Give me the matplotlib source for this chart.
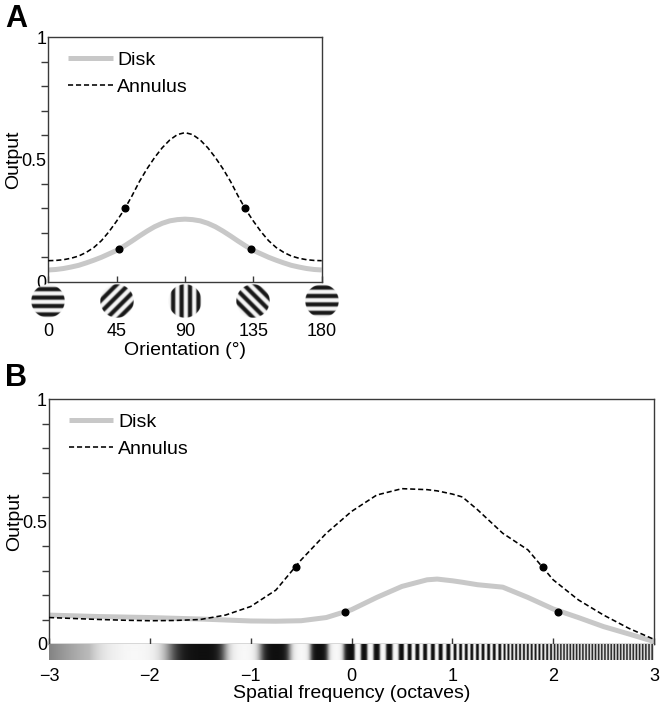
import numpy as np
import matplotlib
matplotlib.use('Agg')
import matplotlib.pyplot as plt
from matplotlib.ticker import MultipleLocator, FixedLocator

plt.rcParams['font.family'] = ['Liberation Sans', 'DejaVu Sans']

# ---------------- Panel A data ----------------
orient = [0, 5, 10, 15, 20, 25, 30, 35, 40, 45, 50, 55, 60, 65, 70, 75, 80, 85, 90,
          95, 100, 105, 110, 115, 120, 125, 130, 135, 140, 145, 150, 155, 160, 165, 170, 175, 180]
annulus_a = [0.086, 0.087, 0.090, 0.096, 0.105, 0.120, 0.140, 0.168, 0.205, 0.248, 0.295,
             0.350, 0.410, 0.462, 0.508, 0.548, 0.580, 0.602, 0.610,
             0.602, 0.580, 0.548, 0.508, 0.462, 0.410, 0.350, 0.295, 0.248, 0.205,
             0.168, 0.140, 0.120, 0.105, 0.096, 0.090, 0.087, 0.086]
disk_a = [0.048, 0.050, 0.054, 0.060, 0.067, 0.077, 0.088, 0.100, 0.114, 0.128, 0.146,
          0.166, 0.187, 0.207, 0.225, 0.239, 0.249, 0.254, 0.256,
          0.254, 0.249, 0.239, 0.225, 0.207, 0.187, 0.166, 0.146, 0.128, 0.114,
          0.100, 0.088, 0.077, 0.067, 0.060, 0.054, 0.050, 0.048]
dots_a_annulus_x = [50.5, 129.5]
dots_a_annulus_y = [0.300, 0.300]
dots_a_disk_x = [46.5, 133.5]
dots_a_disk_y = [0.133, 0.133]
orient_ticks = [0, 45, 90, 135, 180]

# ---------------- Panel B data ----------------
sf = [-3.0, -2.75, -2.5, -2.25, -2.0, -1.75, -1.5, -1.25, -1.0, -0.75, -0.5, -0.25, 0.0,
      0.25, 0.5, 0.75, 0.85, 1.0, 1.1, 1.25, 1.5, 1.75, 2.0, 2.25, 2.5, 2.75, 3.0]
annulus_b = [0.108, 0.104, 0.100, 0.097, 0.095, 0.096, 0.100, 0.118, 0.153, 0.220, 0.343,
             0.452, 0.541, 0.608, 0.634, 0.630, 0.625, 0.612, 0.600, 0.548, 0.452, 0.384,
             0.262, 0.180, 0.118, 0.064, 0.019]
disk_b = [0.118, 0.115, 0.112, 0.110, 0.108, 0.105, 0.102, 0.098, 0.094, 0.093, 0.095,
          0.108, 0.140, 0.190, 0.235, 0.262, 0.265, 0.258, 0.252, 0.242, 0.232, 0.190,
          0.143, 0.108, 0.071, 0.041, 0.010]
dots_b_annulus_x = [-0.55, 1.9]
dots_b_annulus_y = [0.316, 0.316]
dots_b_disk_x = [-0.06, 2.05]
dots_b_disk_y = [0.132, 0.132]
sf_ticks = [-3, -2, -1, 0, 1, 2, 3]
sf_ticklabels = ['\u22123', '\u22122', '\u22121', '0', '1', '2', '3']

GRAY = '#c8c8c8'
SPINE = '#3a3a3a'
FS_TICK = 13
FS_LAB = 14

W, H = 660, 702
fig = plt.figure(figsize=(W / 100, H / 100), dpi=100)


def fig_rect(left, top, right, bottom):
    return [left / W, 1 - bottom / H, (right - left) / W, (bottom - top) / H]


def style_axes(ax, xpad):
    for s in ax.spines.values():
        s.set_color(SPINE)
        s.set_linewidth(1.0)
    ax.set_ylim(0, 1)
    ax.yaxis.set_major_locator(FixedLocator([0, 0.5, 1]))
    ax.yaxis.set_major_formatter(plt.FixedFormatter(['0', '0.5', '1']))
    ax.yaxis.set_minor_locator(MultipleLocator(0.1))
    ax.tick_params(axis='y', which='major', length=0, pad=1.5, labelsize=FS_TICK)
    ax.tick_params(axis='y', which='minor', direction='out', length=4.8, width=1.0, color=SPINE)
    ax.tick_params(axis='x', which='major', direction='in', length=4.5, width=1.0,
                   color=SPINE, pad=xpad, labelsize=FS_TICK)


def legend(ax, width_px, height_px):
    leg = ax.legend(loc='upper left',
                    bbox_to_anchor=(19.5 / width_px, 1 - 14 / height_px),
                    frameon=False, fontsize=FS_LAB, handlelength=2.3, handletextpad=0.25,
                    labelspacing=0.5, borderpad=0.0, borderaxespad=0.0)
    return leg


# ================= Panel A =================
axA = fig.add_axes(fig_rect(48.3, 37.3, 321.7, 281.7))
axA.plot(orient, disk_a, color=GRAY, lw=3.6, solid_capstyle='butt', label='Disk', zorder=2)
axA.plot(orient, annulus_a, color='black', lw=1.15, dashes=(3.2, 1.8), label='Annulus', zorder=3)
axA.plot(dots_a_annulus_x, dots_a_annulus_y, 'o', color='black', ms=4.8, zorder=4)
axA.plot(dots_a_disk_x, dots_a_disk_y, 'o', color='black', ms=4.8, zorder=4)
axA.set_xlim(0, 180)
axA.set_xticks(orient_ticks)
style_axes(axA, xpad=30)
axA.set_xlabel('Orientation (\u00b0)', fontsize=FS_LAB, labelpad=1)
axA.set_ylabel('Output', fontsize=FS_LAB)
axA.yaxis.set_label_coords(-0.095, 0.5)
legend(axA, 321.7 - 48.3, 281.7 - 37.3)
fig.text(5 / W, 1 - 19 / H, 'A', fontsize=22, fontweight='bold', va='center', ha='left')

# grating icons
n = 120
u, v = np.meshgrid(np.linspace(-1, 1, n), np.linspace(-1, 1, n))
r = np.sqrt(u ** 2 + v ** 2)
alpha = np.clip((1 - r) * n / 2.5, 0, 1)
d_px = 34
cy = 300.7
for th in orient_ticks:
    t = np.deg2rad(th)
    d = -np.sin(t) * u + np.cos(t) * v
    s = np.tanh(2.2 * np.cos(2 * np.pi * 2.0 * d + 0.6)) / np.tanh(2.2)
    g = 0.53 + 0.44 * s
    img = np.dstack([g, g, g, alpha])
    cx = 48.3 + th / 180 * (321.7 - 48.3)
    iax = fig.add_axes(fig_rect(cx - d_px / 2, cy - d_px / 2, cx + d_px / 2, cy + d_px / 2))
    iax.imshow(img, origin='lower', interpolation='bilinear')
    iax.axis('off')

# ================= Panel B =================
axB = fig.add_axes(fig_rect(49, 399, 654, 644))
axB.plot(sf, disk_b, color=GRAY, lw=3.6, solid_capstyle='butt', label='Disk', zorder=2)
axB.plot(sf, annulus_b, color='black', lw=1.15, dashes=(3.2, 1.8), label='Annulus', zorder=3)
axB.plot(dots_b_annulus_x, dots_b_annulus_y, 'o', color='black', ms=4.8, zorder=4)
axB.plot(dots_b_disk_x, dots_b_disk_y, 'o', color='black', ms=4.8, zorder=4)
axB.set_xlim(-3, 3)
axB.set_xticks(sf_ticks)
axB.set_xticklabels(sf_ticklabels)
style_axes(axB, xpad=17.5)
axB.set_xlabel('Spatial frequency (octaves)', fontsize=FS_LAB, labelpad=0)
axB.set_ylabel('Output', fontsize=FS_LAB)
axB.yaxis.set_label_coords(-0.043, 0.5)
legend(axB, 654 - 49, 644 - 399)
fig.text(5 / W, 1 - 378 / H, 'B', fontsize=22, fontweight='bold', va='center', ha='left')

# chirped grating bar under panel B (decorative stimulus illustration)
bax = fig.add_axes(fig_rect(49, 644, 654, 660))
xs = np.linspace(-3, 3, 1210)
knot_x = [-3.0, -2.6, -2.3, -2.15, -1.46, -1.06, -0.74, -0.49, -0.32, -0.15, 0.0,
          0.5, 1.0, 1.5, 2.0, 2.5, 3.0]
knot_c = [-0.25, -0.21, -0.10, 0.0, 0.5, 1.0, 1.5, 2.0, 2.5, 3.0, 3.5,
          7.5, 14.0, 23.0, 36.0, 52.0, 68.0]
cyc = np.interp(xs, knot_x, knot_c)
k = 2.0
bar = 0.5 + 0.5 * np.tanh(k * np.cos(2 * np.pi * cyc)) / np.tanh(k)
bar = 0.06 + 0.91 * bar
bax.imshow(bar[None, :], aspect='auto', cmap='gray', vmin=0, vmax=1,
           extent=[-3, 3, 0, 1], interpolation='bilinear')
bax.axis('off')

fig.savefig('out.png', dpi=100)
